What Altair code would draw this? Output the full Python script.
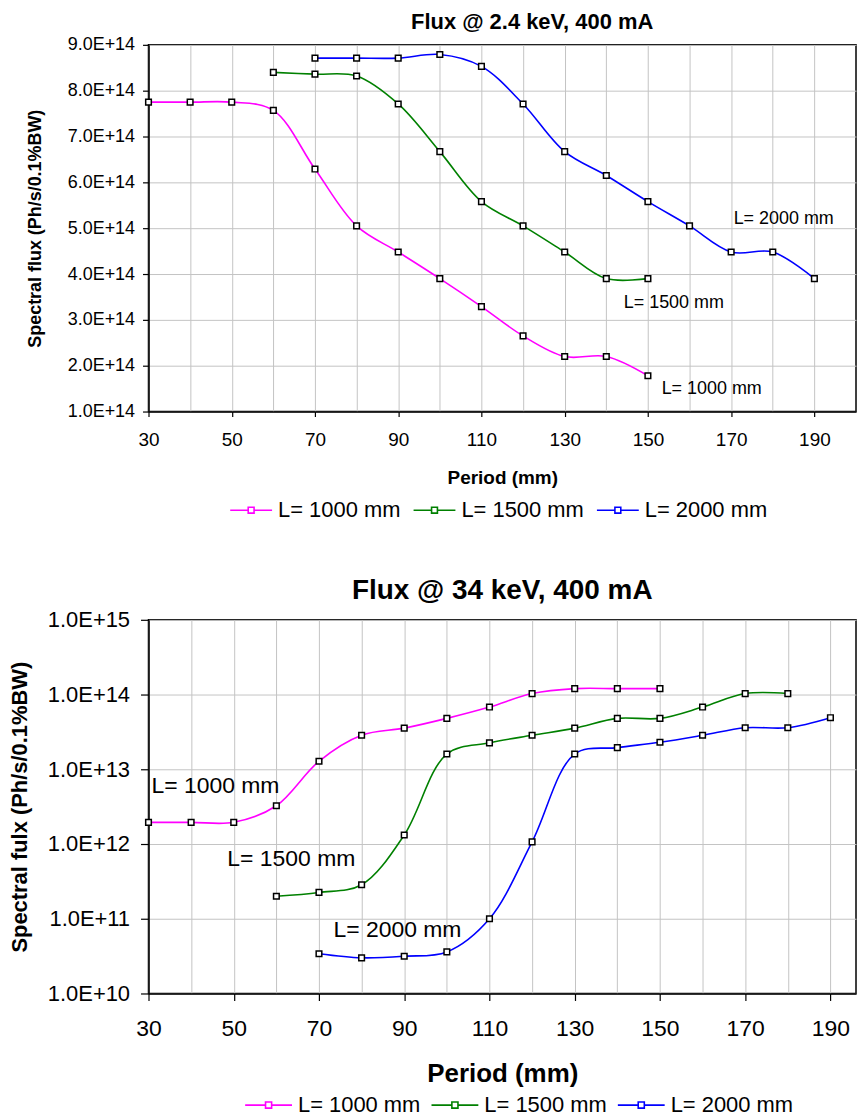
import altair as alt
import pandas as pd

FONT = "Liberation Sans, Arial, sans-serif"

series = ["L= 1000 mm", "L= 1500 mm", "L= 2000 mm"]
colors = ["#FF00FF", "#008000", "#0000FF"]

# ---- Flux @ 2.4 keV (Ph/s/0.1%BW) ----
period24_1000 = [30, 40, 50, 60, 70, 80, 90, 100, 110, 120, 130, 140, 150]
flux24_1000 = [7.75e14, 7.75e14, 7.75e14, 7.57e14, 6.29e14, 5.05e14, 4.48e14,
               3.90e14, 3.29e14, 2.65e14, 2.20e14, 2.20e14, 1.78e14]
period24_1500 = [60, 70, 80, 90, 100, 110, 120, 130, 140, 150]
flux24_1500 = [8.40e14, 8.36e14, 8.32e14, 7.71e14, 6.67e14, 5.58e14, 5.05e14,
               4.48e14, 3.90e14, 3.90e14]
period24_2000 = [70, 80, 90, 100, 110, 120, 130, 140, 150, 160, 170, 180, 190]
flux24_2000 = [8.71e14, 8.71e14, 8.71e14, 8.79e14, 8.53e14, 7.71e14, 6.67e14,
               6.15e14, 5.58e14, 5.05e14, 4.48e14, 4.48e14, 3.90e14]

# ---- Flux @ 34 keV (Ph/s/0.1%BW) ----
period34_1000 = [30, 40, 50, 60, 70, 80, 90, 100, 110, 120, 130, 140, 150]
flux34_1000 = [1.95e12, 1.95e12, 1.95e12, 3.25e12, 1.28e13, 2.85e13, 3.55e13,
               4.8e13, 6.8e13, 1.03e14, 1.2e14, 1.2e14, 1.2e14]
period34_1500 = [60, 70, 80, 90, 100, 110, 120, 130, 140, 150, 160, 170, 180]
flux34_1500 = [2.0e11, 2.25e11, 2.85e11, 1.32e12, 1.6e13, 2.26e13, 2.85e13,
               3.55e13, 4.8e13, 4.8e13, 6.8e13, 1.03e14, 1.03e14]
period34_2000 = [70, 80, 90, 100, 110, 120, 130, 140, 150, 160, 170, 180, 190]
flux34_2000 = [3.4e10, 3.0e10, 3.15e10, 3.6e10, 1.0e11, 1.07e12, 1.6e13,
               1.95e13, 2.3e13, 2.85e13, 3.6e13, 3.6e13, 4.9e13]

# in-plot series labels (anchor in data units)
ann24_period = [153.3, 144.2, 170.6]
ann24_flux = [1.5e14, 3.37e14, 5.2e14]
ann34_period = [30.7, 48.5, 73.4]
ann34_flux = [6.0e12, 6.24e11, 7.1e10]

y24_ticks = [1e14, 2e14, 3e14, 4e14, 5e14, 6e14, 7e14, 8e14, 9e14]
y34_ticks = [1e10, 1e11, 1e12, 1e13, 1e14, 1e15]
x_grid = list(range(30, 200, 10))


def long_df(parts):
    rows = []
    for name, xs, ys in parts:
        for xv, yv in zip(xs, ys):
            rows.append({"series": name, "period": xv, "flux": yv})
    return pd.DataFrame(rows)


df24 = long_df([(series[0], period24_1000, flux24_1000),
                (series[1], period24_1500, flux24_1500),
                (series[2], period24_2000, flux24_2000)])
df34 = long_df([(series[0], period34_1000, flux34_1000),
                (series[1], period34_1500, flux34_1500),
                (series[2], period34_2000, flux34_2000)])
ann24 = pd.DataFrame({"period": ann24_period, "flux": ann24_flux, "label": series})
ann34 = pd.DataFrame({"period": ann34_period, "flux": ann34_flux, "label": series})

tick_cond = {"condition": {"test": "datum.value % 20 == 10", "value": 1}, "value": 0}


def legend_path(half):
    h = f"{half:.2f}"
    return f"M-1,0H-{h}M{h},0H1M-{h},-{h}H{h}V{h}H-{h}Z"


def panel(df, ann, yscale, yaxis, ytitle, xmax, width, height, title, tfs, tdx, toff,
          xlab_fs, xtitle_fs, xpad, xtpad, xtick, ann_fs, leg):
    xenc = alt.X("period:Q", title="Period (mm)",
                 scale=alt.Scale(domain=[30, xmax], nice=False, zero=False),
                 axis=alt.Axis(values=x_grid, labelExpr="datum.value % 20 == 10 ? datum.label : ''",
                               tickOpacity=tick_cond, tickSize=xtick, labelPadding=xpad,
                               labelFontSize=xlab_fs, titleFontSize=xtitle_fs,
                               titleFontWeight="bold", titlePadding=xtpad,
                               labelOverlap=False, labelFlush=False, labelBound=False))
    yenc = alt.Y("flux:Q", title=ytitle, scale=yscale, axis=yaxis)
    line = alt.Chart(df).mark_line(strokeWidth=1.6, interpolate="catmull-rom").encode(
        x=xenc, y=yenc,
        color=alt.Color("series:N", scale=alt.Scale(domain=series, range=colors), legend=leg))
    pts = alt.Chart(df).mark_point(shape="square", size=32, filled=True, fill="white",
                                   stroke="black", strokeWidth=1.5, opacity=1).encode(
        x=xenc, y=yenc)
    txt = alt.Chart(ann).mark_text(align="left", baseline="middle", fontSize=ann_fs,
                                   font=FONT, color="black").encode(
        x="period:Q", y="flux:Q", text="label:N")
    return alt.layer(line, pts, txt).properties(
        width=width, height=height,
        title=alt.TitleParams(title, fontSize=tfs, fontWeight="bold", font=FONT,
                              anchor="middle", frame="group", dx=tdx, offset=toff,
                              color="black"))


top_y_axis = alt.Axis(values=y24_ticks,
                      labelExpr="format(datum.value / 1e14, '.1f') + 'E+14'",
                      tickSize=6, labelPadding=8, labelFontSize=18, minExtent=82,
                      titleFontSize=18, titleFontWeight="bold", titlePadding=22)
bot_y_axis = alt.Axis(values=y34_ticks,
                      labelExpr="'1.0E+' + round(log(datum.value) / LN10)",
                      tickSize=8, labelPadding=11, labelFontSize=22, minExtent=102,
                      titleFontSize=22, titleFontWeight="bold", titlePadding=15)

top_leg = alt.Legend(orient="none", legendX=81, legendY=455, direction="horizontal",
                     columns=3, title=None, symbolType=legend_path(0.14), symbolSize=1764,
                     clipHeight=24,
                     symbolStrokeWidth=1.6, symbolFillColor="white", labelFontSize=22,
                     labelFont=FONT, labelColor="black", labelOffset=5, columnPadding=12)
bot_leg = alt.Legend(orient="none", legendX=96, legendY=475, direction="horizontal",
                     columns=3, title=None, symbolType=legend_path(0.13), symbolSize=2209,
                     clipHeight=24,
                     symbolStrokeWidth=1.6, symbolFillColor="white", labelFontSize=22,
                     labelFont=FONT, labelColor="black", labelOffset=5, columnPadding=10)

top = panel(df24, ann24,
            alt.Scale(domain=[1e14, 9e14], nice=False, zero=False),
            top_y_axis, "Spectral flux (Ph/s/0.1%BW)", 200, 710, 368,
            "Flux @ 2.4 keV, 400 mA", 22, 30, 2, 19, 19, 14, 19, 5, 18, top_leg)
bottom = panel(df34, ann34,
               alt.Scale(type="log", domain=[1e10, 1e15], nice=False),
               bot_y_axis, "Spectral fulx (Ph/s/0.1%BW)", 196, 710, 375,
               "Flux @ 34 keV, 400 mA", 28, 0, 4, 23, 26, 17, 20, 7, 23, bot_leg)

chart = alt.vconcat(top, bottom, spacing=53).resolve_scale(
    color="independent").resolve_legend(color="independent").properties(
    padding={"left": 0, "top": 0, "right": 0, "bottom": 0}
).configure_view(stroke="black", strokeWidth=1.5).configure_axis(
    gridColor="#c4c4c4", gridWidth=1, domainColor="black", domainWidth=1.5,
    tickColor="black", tickWidth=1.2, labelColor="black", titleColor="black",
    labelFont=FONT, titleFont=FONT
)

chart.save("out.html", embed_options={"renderer": "svg", "actions": False})
